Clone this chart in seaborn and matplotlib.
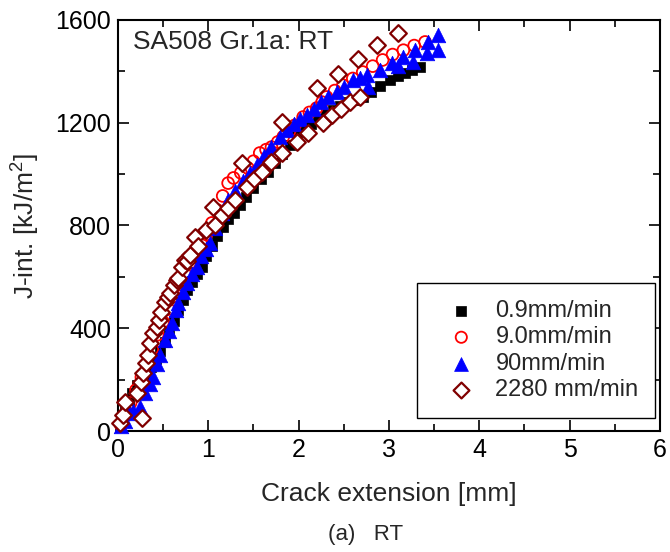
import matplotlib
matplotlib.use("Agg")
import matplotlib.pyplot as plt
import seaborn as sns
import pandas as pd
from matplotlib.ticker import MultipleLocator

sns.set_theme(style="white")
plt.rcParams['font.family'] = ['Liberation Sans', 'DejaVu Sans']
plt.rcParams['mathtext.fontset'] = 'custom'
plt.rcParams['mathtext.rm'] = 'Liberation Sans'

# ---- data ----
labels = ["0.9mm/min", "9.0mm/min", "90mm/min", "2280 mm/min"]

x_09 = [0.02, 0.05, 0.08, 0.12, 0.16, 0.21, 0.27, 0.32, 0.37, 0.42, 0.47, 0.52, 0.57, 0.62,
        0.67, 0.72, 0.77, 0.82, 0.88, 0.93, 0.98, 1.04, 1.10, 1.16, 1.22, 1.28, 1.35, 1.42,
        1.50, 1.58, 1.66, 1.74, 1.82, 1.90, 1.98, 2.06, 2.14, 2.22, 2.30, 2.38, 2.46, 2.54,
        2.62, 2.71, 2.80, 2.90, 3.01, 3.10, 3.18, 3.26, 3.34]
j_09 = [15, 50, 90, 120, 150, 180, 190, 220, 250, 280, 310, 345, 385, 430,
        470, 510, 550, 580, 610, 640, 680, 720, 760, 795, 825, 848, 880, 910,
        945, 980, 1010, 1045, 1080, 1115, 1150, 1175, 1195, 1215, 1235, 1250, 1265, 1280,
        1290, 1300, 1320, 1342, 1366, 1380, 1392, 1405, 1416]

x_90 = [0.03, 0.08, 0.14, 0.20, 0.26, 0.32, 0.38, 0.44, 0.50, 0.56, 0.62, 0.68, 0.74, 0.80,
        0.86, 0.92, 0.98, 1.04, 1.10, 1.16, 1.22, 1.28, 1.36, 1.44, 1.50, 1.57, 1.64, 1.70,
        1.77, 1.83, 1.90, 1.96, 2.05, 2.12, 2.20, 2.26, 2.31, 2.40, 2.49, 2.60, 2.71, 2.82,
        2.93, 3.04, 3.16, 3.28, 3.40]
j_90 = [25, 60, 110, 160, 210, 265, 320, 375, 425, 475, 525, 570, 615, 655,
        695, 730, 765, 810, 860, 915, 965, 985, 1005, 1023, 1050, 1082, 1095, 1105,
        1125, 1145, 1168, 1190, 1222, 1240, 1257, 1280, 1300, 1325, 1346, 1372, 1397, 1420,
        1444, 1465, 1482, 1500, 1514]

x_900 = [0.03, 0.08, 0.12, 0.17, 0.24, 0.30, 0.35, 0.39, 0.43, 0.47, 0.52, 0.56, 0.60, 0.64,
         0.67, 0.72, 0.76, 0.82, 0.87, 0.92, 0.97, 1.02, 1.08, 1.15, 1.22, 1.30, 1.38, 1.46,
         1.54, 1.62, 1.70, 1.79, 1.87, 1.95, 2.02, 2.09, 2.17, 2.25, 2.33, 2.42, 2.50, 2.60,
         2.68, 2.76, 2.77, 2.90, 3.03, 3.10, 3.16, 3.27, 3.29, 3.42, 3.43, 3.54, 3.54]
j_900 = [20, 40, 70, 80, 93, 150, 185, 210, 260, 296, 354, 390, 420, 470,
         498, 540, 576, 610, 638, 680, 710, 731, 790, 850, 899, 935, 975, 1005,
         1035, 1070, 1105, 1145, 1170, 1195, 1215, 1230, 1255, 1280, 1300, 1320, 1340, 1366,
         1375, 1385, 1339, 1405, 1432, 1420, 1455, 1436, 1482, 1471, 1514, 1541, 1482]

x_2280 = [0.02, 0.06, 0.08, 0.27, 0.21, 0.25, 0.28, 0.31, 0.33, 0.35, 0.39, 0.43, 0.46, 0.48,
          0.52, 0.55, 0.58, 0.62, 0.65, 0.67, 0.71, 0.74, 0.76, 0.80, 0.85, 0.89, 0.98, 1.05,
          1.07, 1.15, 1.22, 1.30, 1.37, 1.43, 1.51, 1.59, 1.70, 1.82, 1.82, 1.98, 2.10, 2.20,
          2.27, 2.37, 2.44, 2.47, 2.57, 2.66, 2.68, 2.87, 3.10]
j_2280 = [30, 62, 113, 51, 148, 190, 226, 265, 296, 342, 381, 405, 432, 463,
          502, 520, 536, 570, 588, 595, 640, 665, 660, 685, 755, 720, 782, 872,
          800, 840, 870, 899, 1043, 950, 980, 1008, 1047, 1082, 1202, 1125, 1160, 1334,
          1198, 1230, 1389, 1255, 1281, 1447, 1300, 1502, 1548]

series = [
    (x_09, j_09, labels[0]),
    (x_90, j_90, labels[1]),
    (x_900, j_900, labels[2]),
    (x_2280, j_2280, labels[3]),
]
styles = {
    labels[0]: dict(marker='s', s=62, facecolor='black', edgecolor='black', linewidth=0.5),
    labels[1]: dict(marker='o', s=72, facecolor='none', edgecolor='red', linewidth=1.3),
    labels[2]: dict(marker='^', s=110, facecolor='blue', edgecolor='blue', linewidth=0.5),
    labels[3]: dict(marker='D', s=72, facecolor='white', edgecolor='#800000', linewidth=1.6),
}

fig = plt.figure(figsize=(6.7, 5.52), dpi=100)
ax = fig.add_axes([0.176, 0.219, 0.809, 0.745])

for xs, js, lab in series:
    df = pd.DataFrame({"x": xs, "J": js})
    sns.scatterplot(data=df, x="x", y="J", ax=ax, label=lab, clip_on=False, zorder=3,
                    **styles[lab])

ax.set_xlim(0, 6)
ax.set_ylim(0, 1600)
ax.xaxis.set_major_locator(MultipleLocator(1))
ax.xaxis.set_minor_locator(MultipleLocator(0.5))
ax.yaxis.set_major_locator(MultipleLocator(400))
ax.yaxis.set_minor_locator(MultipleLocator(200))
ax.tick_params(which='both', direction='in', top=True, right=True, bottom=True, left=True,
               colors='black', width=1.2)
ax.tick_params(which='major', length=8, labelsize=18, pad=5)
ax.tick_params(which='minor', length=5)
for sp in ax.spines.values():
    sp.set_color('black')
    sp.set_linewidth(1.5)

ax.set_xlabel("Crack extension [mm]", fontsize=19, labelpad=14)
ax.set_ylabel("J-int. [kJ/m$^2$]", fontsize=19, labelpad=10)
ax.text(0.028, 0.975, "SA508 Gr.1a: RT", transform=ax.transAxes, fontsize=19,
        ha='left', va='top')

leg = ax.legend(loc='lower right', bbox_to_anchor=(0.991, 0.032), borderaxespad=0,
                fontsize=17, frameon=True, fancybox=False, edgecolor='black',
                framealpha=1, labelspacing=0.19, handletextpad=0.28, borderpad=0.7,
                handlelength=2.33, markerscale=0.95)
leg.get_frame().set_linewidth(1.0)

fig.text(0.545, 0.012, "(a)   RT", ha='center', va='bottom', fontsize=16)

fig.savefig("out.png", dpi=100)
